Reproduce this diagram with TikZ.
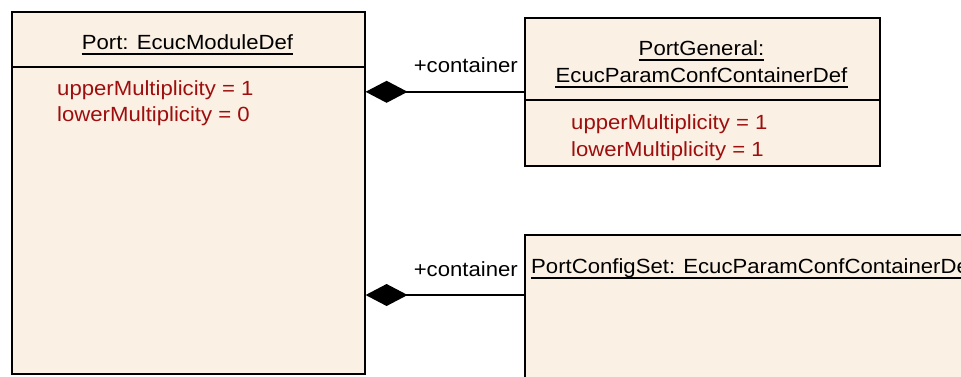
\documentclass[tikz,border=0pt]{standalone}
\usepackage{fontspec}
\setmainfont{Liberation Sans}[FakeStretch=1.08]
\usetikzlibrary{arrows.meta,positioning}
\definecolor{classfill}{RGB}{250,240,227}
\definecolor{attrred}{RGB}{158,14,14}
\tikzset{
  umlclass/.style={draw,fill=classfill,line width=1.6pt,rectangle,inner sep=0pt,anchor=north west},
  umltext/.style={inner sep=0pt,font=\fontsize{20.5pt}{26pt}\selectfont},
  umlattr/.style={umltext,text=attrred,anchor=base west},
  umlcomp/.style={line width=1.5pt,{Diamond[length=42pt,width=22pt]}-},
}
\newcommand{\umlunder}[1]{\draw[line width=1.5pt] ([yshift=-5pt]#1.base west) -- ([yshift=-5pt]#1.base east);}
\begin{document}
\begin{tikzpicture}[x=1pt,y=-1pt]
            \useasboundingbox (0,0) rectangle (961,376);
            \clip (0,0) rectangle (961,376);
            \node[umlclass,minimum width=353pt,minimum height=362pt] (port) at (11,11) {};
            \node[umlclass,minimum width=355pt,minimum height=148pt] (general) at (524,17) {};
            \node[umlclass,minimum width=500pt,minimum height=200pt] (configset) at (524,234) {};
            \draw[line width=1.5pt] ([yshift=-56pt]port.north west) -- ([yshift=-56pt]port.north east);
            \draw[line width=1.5pt] ([yshift=-83pt]general.north west) -- ([yshift=-83pt]general.north east);
            \node[umltext,anchor=base] (porttitle) at (187.5,49) {Port: EcucModuleDef};
            \umlunder{porttitle}
            \node[umlattr] (portupper) at (57,95) {upperMultiplicity = 1};
            \node[umlattr] (portlower) at (57,121) {lowerMultiplicity = 0};
            \node[umltext,anchor=base] (gentitle) at (701.5,55) {PortGeneral:};
            \umlunder{gentitle}
            \node[umltext,anchor=base] (gentype) at (701.5,82) {EcucParamConfContainerDef};
            \umlunder{gentype}
            \node[umlattr] (genupper) at (571,129) {upperMultiplicity = 1};
            \node[umlattr] (genlower) at (571,156) {lowerMultiplicity = 1};
            \node[umltext,anchor=base west] (cfgtitle) at (531,273) {PortConfigSet: EcucParamConfContainerDef};
            \umlunder{cfgtitle}
            \coordinate (cfgend) at ([yshift=-61pt]configset.north west);
            \draw[umlcomp] (port.east |- general.west) -- (general.west);
            \draw[umlcomp] (port.east |- cfgend) -- (cfgend);
            \node[umltext,anchor=base east] (roletop) at (518,72) {+container};
            \node[umltext,anchor=base east] (rolebottom) at (518,276) {+container};
        \end{tikzpicture}
\end{document}
